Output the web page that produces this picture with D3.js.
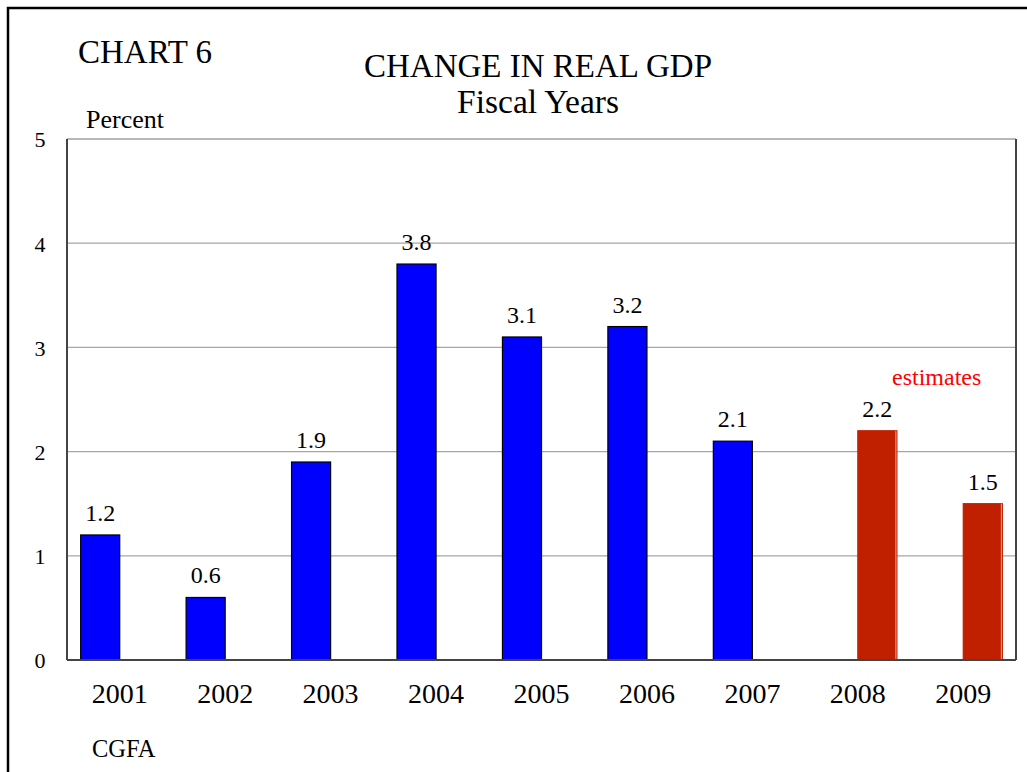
<!DOCTYPE html>
<html>
<head>
<meta charset="utf-8">
<script src="https://cdn.jsdelivr.net/npm/d3@7"></script>
<style>
  html, body { margin: 0; padding: 0; background: #fff; }
  svg text { font-family: "Liberation Serif", "Times New Roman", serif; }
</style>
</head>
<body>
<svg id="chart" width="1027" height="772"></svg>
<script>
// Real GDP change by fiscal year (percent)
const years = ["2001", "2002", "2003", "2004", "2005", "2006", "2007", "2008", "2009"];
const actualValues = [1.2, 0.6, 1.9, 3.8, 3.1, 3.2, 2.1, null, null];
const estimateValues = [null, null, null, null, null, null, null, 2.2, 1.5];
const seriesKeys = ["actual", "estimate"];
const yTicks = [0, 1, 2, 3, 4, 5];

const SERIF = "Liberation Serif";
const svg = d3.select("#chart").attr("font-family", SERIF);

// Outer frame
svg.append("rect")
  .attr("x", 8).attr("y", 8)
  .attr("width", 1040).attr("height", 800)
  .attr("fill", "none").attr("stroke", "#000").attr("stroke-width", 2.5);

const plot = { left: 67, right: 1016, top: 139, bottom: 660 };

const x = d3.scaleBand().domain(years).range([plot.left, plot.right]).paddingInner(0).paddingOuter(0);
const sub = d3.scaleBand().domain(seriesKeys).range([0, x.bandwidth()]).paddingInner(0).paddingOuter(0.35);
const y = d3.scaleLinear().domain([0, 5]).range([plot.bottom, plot.top]);

// Gridlines
svg.append("g").selectAll("line")
  .data(yTicks.filter(t => t > 0 && t < 5))
  .join("line")
  .attr("x1", plot.left).attr("x2", plot.right)
  .attr("y1", d => y(d)).attr("y2", d => y(d))
  .attr("stroke", "#a6a6a6").attr("stroke-width", 1.2);

// Plot area border
svg.append("line").attr("x1", plot.left).attr("x2", plot.right).attr("y1", plot.top).attr("y2", plot.top)
  .attr("stroke", "#a0a0a0").attr("stroke-width", 1.5);
svg.append("line").attr("x1", plot.left).attr("x2", plot.left).attr("y1", plot.top).attr("y2", plot.bottom)
  .attr("stroke", "#444").attr("stroke-width", 2);
svg.append("line").attr("x1", plot.right).attr("x2", plot.right).attr("y1", plot.top).attr("y2", plot.bottom)
  .attr("stroke", "#444").attr("stroke-width", 2);

// Y axis labels
const yAxis = d3.axisLeft(y).tickValues(yTicks).tickSize(0).tickPadding(0).tickFormat(d3.format("d"));
const yg = svg.append("g").attr("transform", `translate(${plot.left - 27},0)`).call(yAxis)
  .attr("font-family", SERIF).attr("font-size", 22);
yg.select(".domain").remove();
yg.selectAll("text")
  .attr("fill", "#000")
  .attr("text-anchor", "middle").attr("dy", "0.36em");

// Bars
const rows = years.map((yr, i) => ({ year: yr, actual: actualValues[i], estimate: estimateValues[i] }));
const colors = { actual: "#0000ff", estimate: "#c02000" };
const strokes = { actual: "#000", estimate: "#c02000" };

const barData = [];
rows.forEach(r => seriesKeys.forEach(k => { if (r[k] != null) barData.push({ year: r.year, key: k, value: r[k] }); }));

svg.append("g").selectAll("rect")
  .data(barData)
  .join("rect")
  .attr("x", d => x(d.year) + sub(d.key))
  .attr("y", d => y(d.value))
  .attr("width", sub.bandwidth())
  .attr("height", d => y(0) - y(d.value))
  .attr("fill", d => colors[d.key])
  .attr("stroke", d => strokes[d.key])
  .attr("stroke-width", 1.2);

// Light edge on estimate bars
svg.append("g").selectAll("line")
  .data(barData.filter(d => d.key === "estimate"))
  .join("line")
  .attr("x1", d => x(d.year) + sub(d.key) + sub.bandwidth() - 1)
  .attr("x2", d => x(d.year) + sub(d.key) + sub.bandwidth() - 1)
  .attr("y1", d => y(d.value)).attr("y2", y(0))
  .attr("stroke", "#f0a090").attr("stroke-width", 1);

// Value labels
svg.append("g").attr("font-family", SERIF).selectAll("text")
  .data(barData)
  .join("text")
  .attr("x", d => x(d.year) + sub(d.key) + sub.bandwidth() / 2)
  .attr("y", d => y(d.value) - 14)
  .attr("text-anchor", "middle")
  .attr("font-size", 24)
  .attr("fill", "#000")
  .text(d => d3.format(".1f")(d.value));

// Baseline
svg.append("line").attr("x1", plot.left).attr("x2", plot.right).attr("y1", y(0)).attr("y2", y(0))
  .attr("stroke", "#444").attr("stroke-width", 2);

// X axis labels
const xAxis = d3.axisBottom(x).tickSize(0).tickPadding(0);
const xg = svg.append("g").attr("transform", `translate(0,${plot.bottom})`).call(xAxis)
  .attr("font-family", SERIF).attr("font-size", 28);
xg.select(".domain").remove();
xg.selectAll("text")
  .attr("fill", "#000")
  .attr("dy", null).attr("y", 43);

// Titles and notes
const note = (tx, ty, size, str, anchor, color) => svg.append("text")
  .attr("x", tx).attr("y", ty)
  .attr("font-family", SERIF).attr("font-size", size)
  .attr("text-anchor", anchor || "start")
  .attr("fill", color || "#000")
  .text(str);

note(78, 63, 33, "CHART 6");
note(538, 77, 33, "CHANGE IN REAL GDP", "middle");
note(538, 113, 33.5, "Fiscal Years", "middle");
note(86, 128, 26, "Percent");
note(892, 385, 24, "estimates", "start", "#ff0000");
note(92, 757, 24.5, "CGFA");
</script>
</body>
</html>
